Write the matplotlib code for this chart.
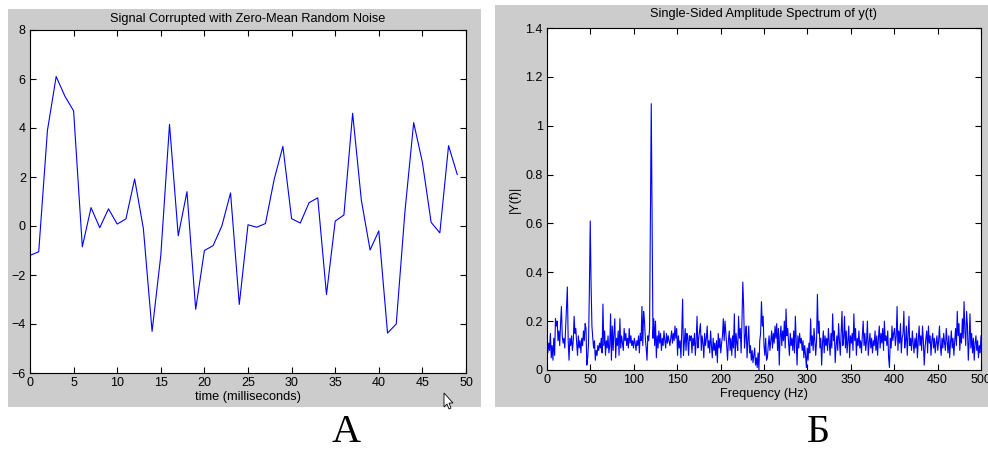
import numpy as np
import matplotlib
matplotlib.use("Agg")
import matplotlib.pyplot as plt
from matplotlib.patches import Rectangle, Polygon

plt.rcParams["font.family"] = ["Liberation Sans", "DejaVu Sans"]

# panel A: first 50 samples of the noisy signal
time_ms = list(range(50))
signal = [-1.2, -1.05, 3.9, 6.1, 5.3, 4.7, -0.85, 0.75, -0.07, 0.7,
          0.08, 0.29, 1.92, -0.1, -4.3, -1.2, 4.15, -0.4, 1.4, -3.4,
          -1.0, -0.8, 0.0, 1.35, -3.2, 0.05, -0.05, 0.1, 1.9, 3.25,
          0.3, 0.12, 0.95, 1.15, -2.8, 0.2, 0.45, 4.6, 1.05, -0.98,
          -0.2, -4.37, -4.0, 0.6, 4.22, 2.6, 0.15, -0.28, 3.28, 2.1]

# panel B: single-sided amplitude spectrum, 0..500 Hz (513 bins)
amp = [
    0.09, 0.07, 0.11, 0.08, 0.15, 0.05, 0.10, 0.04, 0.13, 0.06,
    0.21, 0.18, 0.20, 0.12, 0.16, 0.10, 0.19, 0.26, 0.14, 0.11,
    0.13, 0.09, 0.17, 0.26, 0.34, 0.12, 0.04, 0.13, 0.10, 0.14,
    0.08, 0.12, 0.22, 0.15, 0.17, 0.11, 0.06, 0.14, 0.09, 0.12,
    0.07, 0.13, 0.10, 0.16, 0.12, 0.19, 0.17, 0.02, 0.05, 0.11,
    0.33, 0.61, 0.35, 0.18, 0.13, 0.09, 0.12, 0.04, 0.08, 0.06,
    0.10, 0.08, 0.11, 0.09, 0.13, 0.07, 0.27, 0.10, 0.16, 0.06,
    0.12, 0.09, 0.14, 0.07, 0.10, 0.23, 0.04, 0.18, 0.08, 0.15,
    0.21, 0.05, 0.13, 0.10, 0.16, 0.06, 0.21, 0.09, 0.14, 0.11,
    0.08, 0.17, 0.12, 0.15, 0.10, 0.13, 0.09, 0.17, 0.11, 0.14,
    0.10, 0.12, 0.09, 0.13, 0.11, 0.08, 0.12, 0.10, 0.14, 0.07,
    0.15, 0.12, 0.26, 0.10, 0.24, 0.20, 0.13, 0.09, 0.04, 0.14,
    0.12, 0.17, 0.65, 1.09, 0.60, 0.13, 0.21, 0.10, 0.20, 0.05,
    0.14, 0.09, 0.16, 0.11, 0.15, 0.08, 0.13, 0.10, 0.16, 0.12,
    0.09, 0.15, 0.11, 0.14, 0.12, 0.10, 0.13, 0.16, 0.11, 0.15,
    0.12, 0.18, 0.13, 0.17, 0.06, 0.14, 0.09, 0.12, 0.05, 0.16,
    0.29, 0.06, 0.11, 0.17, 0.08, 0.15, 0.13, 0.06, 0.14, 0.12,
    0.14, 0.07, 0.13, 0.10, 0.15, 0.06, 0.12, 0.22, 0.09, 0.13,
    0.16, 0.19, 0.08, 0.14, 0.11, 0.05, 0.15, 0.10, 0.13, 0.18,
    0.09, 0.12, 0.07, 0.16, 0.10, 0.05, 0.13, 0.08, 0.11, 0.06,
    0.12, 0.03, 0.15, 0.09, 0.13, 0.07, 0.11, 0.14, 0.21, 0.12,
    0.20, 0.15, 0.10, 0.04, 0.12, 0.16, 0.08, 0.13, 0.06, 0.14,
    0.09, 0.23, 0.05, 0.15, 0.11, 0.08, 0.22, 0.13, 0.17, 0.07,
    0.20, 0.36, 0.26, 0.09, 0.14, 0.18, 0.05, 0.12, 0.18, 0.07,
    0.10, 0.04, 0.08, 0.03, 0.06, 0.09, 0.02, 0.05, 0.01, 0.07,
    0.00, 0.12, 0.15, 0.28, 0.18, 0.22, 0.10, 0.06, 0.13, 0.04,
    0.05, 0.10, 0.14, 0.08, 0.12, 0.16, 0.09, 0.15, 0.11, 0.18,
    0.13, 0.19, 0.08, 0.17, 0.02, 0.14, 0.18, 0.10, 0.16, 0.12,
    0.20, 0.09, 0.25, 0.14, 0.17, 0.11, 0.06, 0.15, 0.10, 0.13,
    0.08, 0.16, 0.07, 0.22, 0.12, 0.02, 0.14, 0.09, 0.15, 0.11,
    0.13, 0.08, 0.12, 0.05, 0.10, 0.06, 0.01, 0.09, 0.04, 0.11,
    0.07, 0.21, 0.10, 0.14, 0.08, 0.17, 0.12, 0.06, 0.12, 0.31,
    0.15, 0.20, 0.09, 0.13, 0.02, 0.11, 0.16, 0.07, 0.14, 0.10,
    0.13, 0.08, 0.17, 0.11, 0.06, 0.15, 0.09, 0.23, 0.12, 0.16,
    0.03, 0.10, 0.14, 0.08, 0.19, 0.12, 0.06, 0.15, 0.24, 0.10,
    0.13, 0.22, 0.09, 0.16, 0.07, 0.12, 0.18, 0.05, 0.14, 0.11,
    0.15, 0.08, 0.23, 0.12, 0.17, 0.06, 0.13, 0.10, 0.16, 0.09,
    0.12, 0.07, 0.14, 0.20, 0.10, 0.15, 0.08, 0.12, 0.20, 0.06,
    0.11, 0.15, 0.09, 0.13, 0.07, 0.12, 0.10, 0.16, 0.08, 0.14,
    0.06, 0.13, 0.18, 0.09, 0.15, 0.11, 0.17, 0.08, 0.20, 0.12,
    0.14, 0.10, 0.16, 0.05, 0.01, 0.13, 0.09, 0.18, 0.12, 0.15,
    0.17, 0.10, 0.14, 0.26, 0.08, 0.16, 0.11, 0.19, 0.07, 0.13,
    0.15, 0.24, 0.09, 0.12, 0.18, 0.06, 0.14, 0.22, 0.10, 0.13,
    0.08, 0.16, 0.11, 0.07, 0.13, 0.09, 0.15, 0.05, 0.12, 0.18,
    0.10, 0.14, 0.08, 0.18, 0.12, 0.02, 0.09, 0.13, 0.16, 0.07,
    0.18, 0.11, 0.14, 0.06, 0.12, 0.15, 0.09, 0.13, 0.07, 0.11,
    0.14, 0.08, 0.12, 0.18, 0.10, 0.06, 0.13, 0.09, 0.15, 0.11,
    0.08, 0.17, 0.12, 0.07, 0.14, 0.05, 0.11, 0.16, 0.09, 0.13,
    0.06, 0.12, 0.17, 0.10, 0.24, 0.14, 0.19, 0.08, 0.15, 0.11,
    0.21, 0.13, 0.28, 0.16, 0.10, 0.24, 0.18, 0.04, 0.12, 0.23,
    0.09, 0.15, 0.07, 0.13, 0.04, 0.11, 0.14, 0.08, 0.12, 0.05,
    0.10, 0.07, 0.14,
]
freq = np.linspace(0, 500, len(amp))

W, H = 988, 450
GRAY = "#cccccc"
BLUE = "#0000ff"
FS = 9.2


def fx(x):
    return x / W


def fy(y):
    return 1 - y / H


fig = plt.figure(figsize=(W / 100, H / 100), dpi=100)
fig.patch.set_facecolor("white")

# grey figure backgrounds of the two screenshots
fig.patches.append(Rectangle((fx(8), fy(407)), fx(481 - 8), (407 - 9) / H,
                             transform=fig.transFigure, facecolor=GRAY,
                             edgecolor="none", zorder=-5))
fig.patches.append(Rectangle((fx(495), fy(407)), fx(988 - 495), (407 - 5) / H,
                             transform=fig.transFigure, facecolor=GRAY,
                             edgecolor="none", zorder=-5))

ax1 = fig.add_axes([fx(30), fy(373), fx(436), 343 / H])
ax2 = fig.add_axes([fx(547), fy(370), fx(434), 342 / H])

ax1.plot(time_ms, signal, color=BLUE, lw=0.8)
ax1.set_xlim(0, 50)
ax1.set_ylim(-6, 8)
ax1.set_xticks(range(0, 51, 5))
ax1.set_yticks(range(-6, 9, 2))
ax1.set_title("Signal Corrupted with Zero-Mean Random Noise", fontsize=FS, pad=6)
ax1.set_xlabel("time (milliseconds)", fontsize=FS, labelpad=1)

ax2.plot(freq, amp, color=BLUE, lw=0.8)
ax2.set_xlim(0, 500)
ax2.set_ylim(0, 1.4)
ax2.set_xticks(range(0, 501, 50))
ax2.set_yticks([0, 0.2, 0.4, 0.6, 0.8, 1, 1.2, 1.4])
ax2.set_yticklabels(["0", "0.2", "0.4", "0.6", "0.8", "1", "1.2", "1.4"])
ax2.set_title("Single-Sided Amplitude Spectrum of y(t)", fontsize=FS, pad=8)
ax2.set_xlabel("Frequency (Hz)", fontsize=FS, labelpad=1)
ax2.set_ylabel("|Y(f)|", fontsize=FS, labelpad=3)

for ax in (ax1, ax2):
    ax.set_facecolor("white")
    ax.tick_params(direction="in", length=4, width=0.8, labelsize=9,
                   top=True, right=True, pad=3, colors="black")
    for s in ax.spines.values():
        s.set_linewidth(0.8)
        s.set_color("black")

# panel letters
fig.text(fx(346), fy(433), "А", fontsize=29, family="Liberation Serif",
         ha="center", va="center")
fig.text(fx(818), fy(433), "Б", fontsize=29, family="Liberation Serif",
         ha="center", va="center")

# mouse pointer left in the screenshot
cur = [(444, 393), (444, 407), (447, 404), (449, 409), (451, 408),
       (449, 403), (453, 403)]
fig.patches.append(Polygon([(fx(x), fy(y)) for x, y in cur], closed=True,
                           transform=fig.transFigure, facecolor="white",
                           edgecolor="black", lw=0.6, zorder=5))

fig.savefig("out.png", dpi=100)
